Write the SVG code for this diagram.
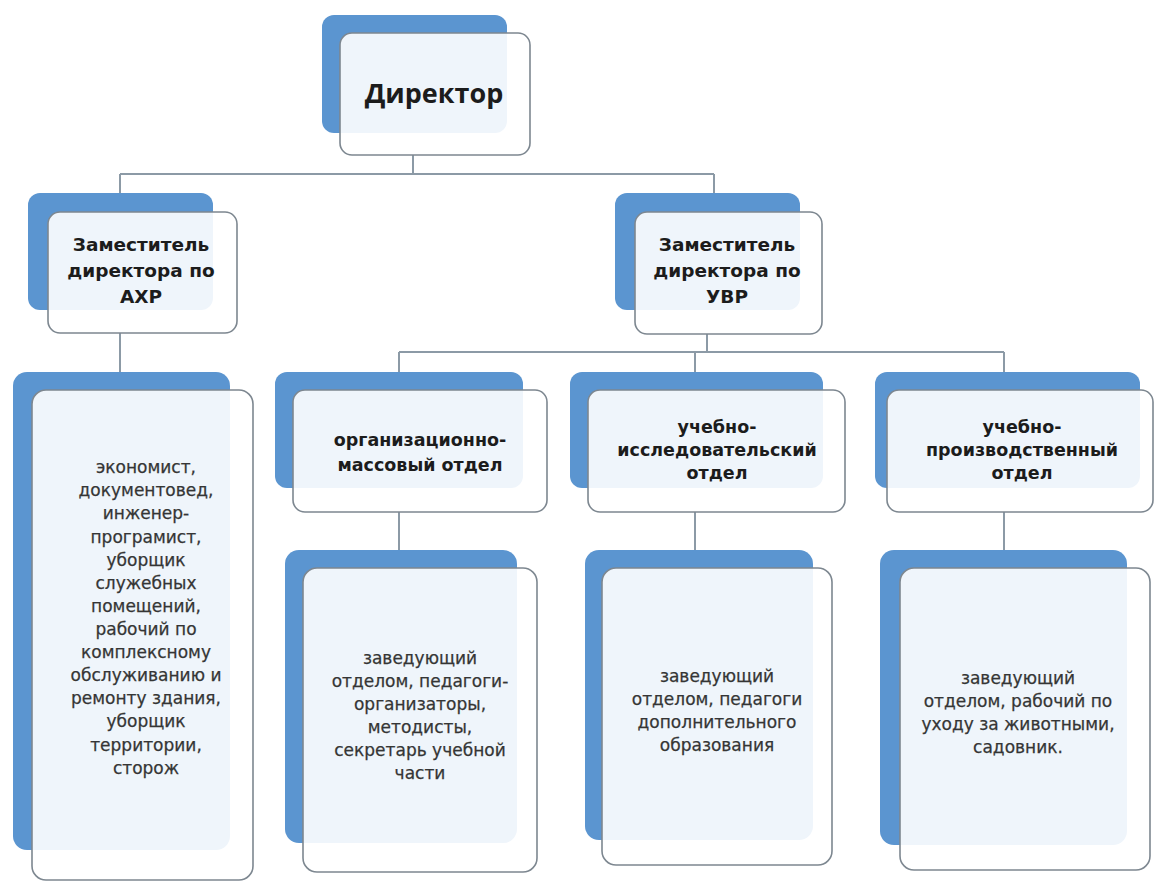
<svg xmlns="http://www.w3.org/2000/svg" width="1154" height="883" viewBox="0 0 1154 883">
<style>
.back{fill:#5b95d0}
.front{fill:#ffffff;fill-opacity:0.9;stroke:#7d8790;stroke-width:1.6}
.conn{stroke:#8c9aa6;stroke-width:2;fill:none}
.h{font-family:"DejaVu Sans","Open Sans",sans-serif;font-weight:bold;fill:#1c1c1c;text-anchor:middle}
.d{font-family:"Open Sans","DejaVu Sans",sans-serif;font-weight:bold;fill:#1c1c1c;text-anchor:middle}
.s{font-family:"DejaVu Sans","Open Sans",sans-serif;fill:#353535;stroke:#353535;stroke-width:0.25;text-anchor:middle;font-size:17px}
</style>
<rect width="1154" height="883" fill="#ffffff"/>
<g id="connectors">
<path class="conn" d="M413 155V174M120 174H714M120 174V194M714 174V194M120 333V373M707 334V352M399 352H1004M399 352V373M695 352V373M1004 352V373M399 512V551M695 512V551M1004 512V551"/>
</g>
<g id="director">
<rect class="back" x="322" y="15" width="185" height="118" rx="12"/>
<rect class="front" x="340" y="33" width="190" height="122" rx="12"/>
<text class="d" x="434" y="103" font-size="27">Директор</text>
</g>
<g id="deputy-ahr">
<rect class="back" x="28" y="193" width="185" height="117" rx="12"/>
<rect class="front" x="48" y="212" width="189" height="121" rx="12"/>
<text class="h" x="141" font-size="18.5"><tspan x="141" y="251">Заместитель</tspan><tspan x="141" y="277">директора по</tspan><tspan x="141" y="303">АХР</tspan></text>
</g>
<g id="deputy-uvr">
<rect class="back" x="615" y="193" width="185" height="117" rx="12"/>
<rect class="front" x="635" y="212" width="187" height="122" rx="12"/>
<text class="h" x="727" font-size="18.5"><tspan x="727" y="251">Заместитель</tspan><tspan x="727" y="277">директора по</tspan><tspan x="727" y="303">УВР</tspan></text>
</g>
<g id="ahr-staff">
<rect class="back" x="13" y="372" width="217" height="478" rx="14"/>
<rect class="front" x="32" y="390" width="221" height="490" rx="14"/>
<text class="s"><tspan x="146" y="473">экономист,</tspan><tspan x="146" y="496">документовед,</tspan><tspan x="146" y="519">инженер-</tspan><tspan x="146" y="543">програмист,</tspan><tspan x="146" y="566">уборщик</tspan><tspan x="146" y="589">служебных</tspan><tspan x="146" y="612">помещений,</tspan><tspan x="146" y="635">рабочий по</tspan><tspan x="146" y="658">комплексному</tspan><tspan x="146" y="681">обслуживанию и</tspan><tspan x="146" y="704">ремонту здания,</tspan><tspan x="146" y="727">уборщик</tspan><tspan x="146" y="751">территории,</tspan><tspan x="146" y="774">сторож</tspan></text>
</g>
<g id="dept-org">
<rect class="back" x="275" y="372" width="248" height="116" rx="12"/>
<rect class="front" x="293" y="390" width="254" height="122" rx="12"/>
<text class="h" x="420" font-size="17.5"><tspan x="420" y="446">организационно-</tspan><tspan x="420" y="471">массовый отдел</tspan></text>
</g>
<g id="dept-research">
<rect class="back" x="570" y="372" width="253" height="116" rx="12"/>
<rect class="front" x="588" y="390" width="257" height="122" rx="12"/>
<text class="h" x="717" font-size="17.5"><tspan x="717" y="433">учебно-</tspan><tspan x="717" y="456">исследовательский</tspan><tspan x="717" y="479">отдел</tspan></text>
</g>
<g id="dept-production">
<rect class="back" x="875" y="372" width="265" height="116" rx="12"/>
<rect class="front" x="887" y="390" width="266" height="122" rx="12"/>
<text class="h" x="1022" font-size="17.5"><tspan x="1022" y="433">учебно-</tspan><tspan x="1022" y="456">производственный</tspan><tspan x="1022" y="479">отдел</tspan></text>
</g>
<g id="org-staff">
<rect class="back" x="285" y="550" width="232" height="293" rx="14"/>
<rect class="front" x="303" y="568" width="234" height="304" rx="14"/>
<text class="s"><tspan x="420" y="664">заведующий</tspan><tspan x="420" y="687">отделом, педагоги-</tspan><tspan x="420" y="710">организаторы,</tspan><tspan x="420" y="733">методисты,</tspan><tspan x="420" y="756">секретарь учебной</tspan><tspan x="420" y="779">части</tspan></text>
</g>
<g id="research-staff">
<rect class="back" x="585" y="550" width="228" height="290" rx="14"/>
<rect class="front" x="602" y="568" width="230" height="297" rx="14"/>
<text class="s"><tspan x="717" y="682">заведующий</tspan><tspan x="717" y="705">отделом, педагоги</tspan><tspan x="717" y="728">дополнительного</tspan><tspan x="717" y="751">образования</tspan></text>
</g>
<g id="production-staff">
<rect class="back" x="880" y="550" width="247" height="295" rx="14"/>
<rect class="front" x="900" y="568" width="250" height="302" rx="14"/>
<text class="s"><tspan x="1018" y="684">заведующий</tspan><tspan x="1018" y="707">отделом, рабочий по</tspan><tspan x="1018" y="730">уходу за животными,</tspan><tspan x="1018" y="753">садовник.</tspan></text>
</g>
</svg>
